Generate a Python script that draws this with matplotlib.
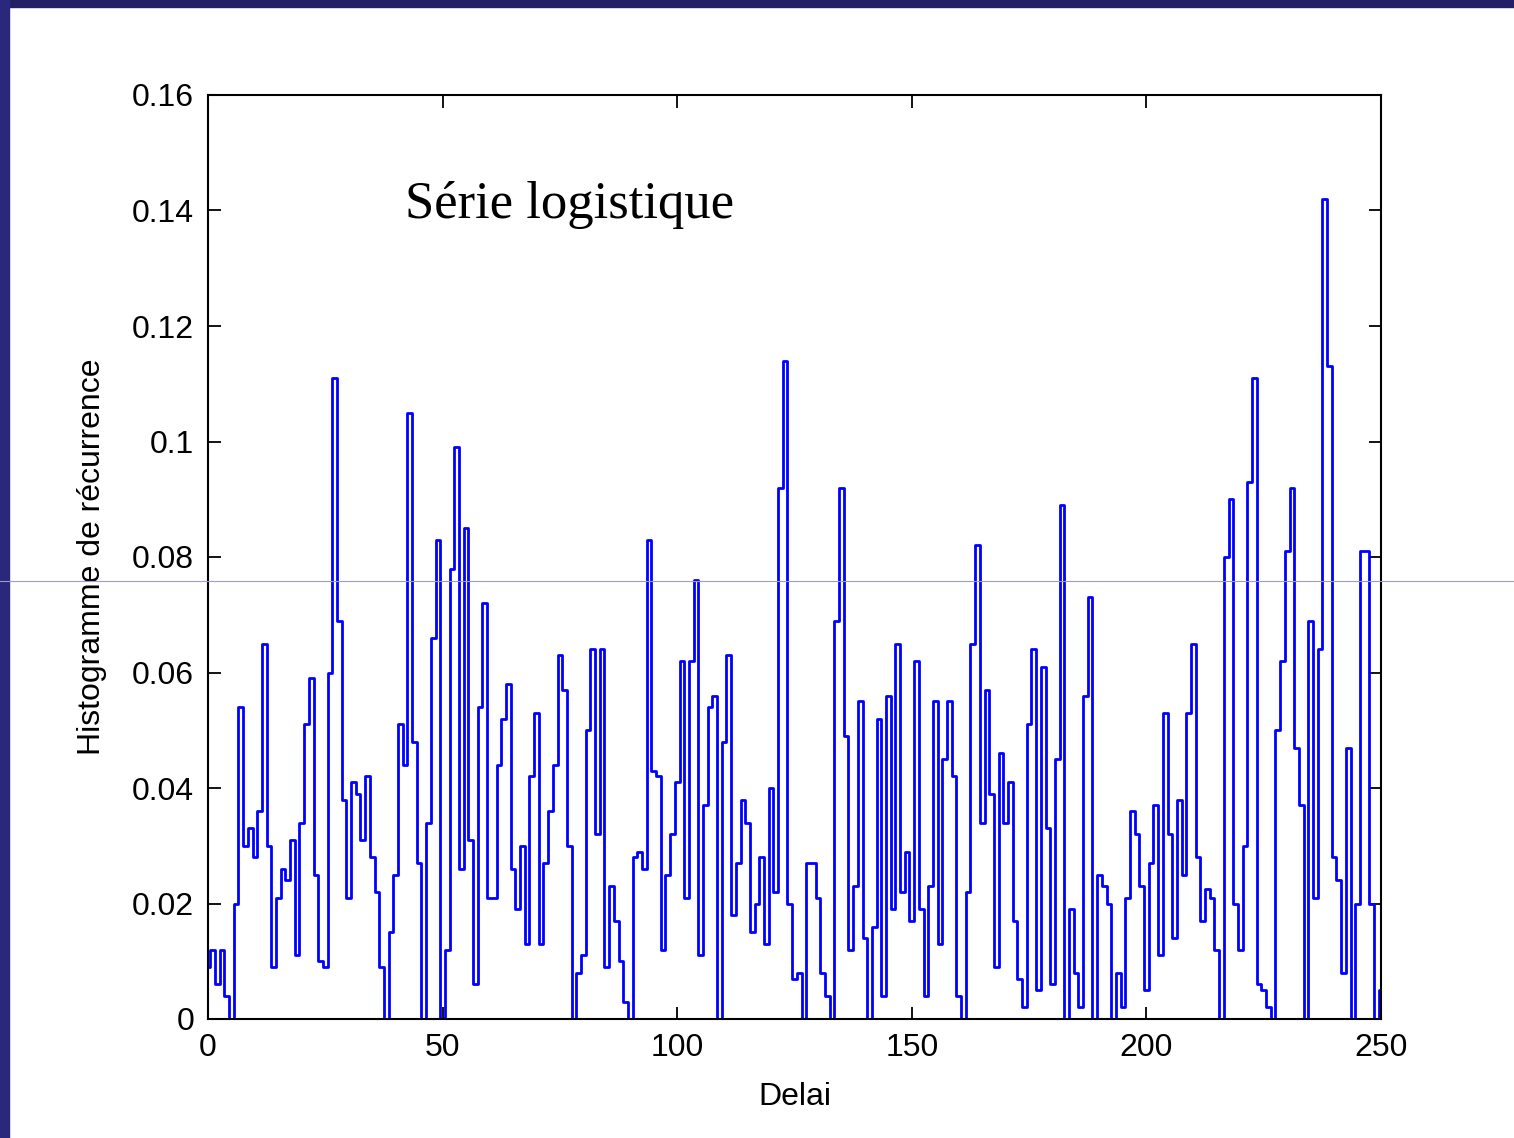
import numpy as np
import matplotlib.pyplot as plt
from matplotlib.patches import Rectangle
from matplotlib.lines import Line2D

# Recurrence histogram of the logistic series, one value per delay
hist_000 = [0.009, 0.012, 0.006, 0.012, 0.004, 0.0, 0.020, 0.054, 0.030, 0.033,
            0.028, 0.036, 0.065, 0.030, 0.009, 0.021, 0.026, 0.024, 0.031, 0.011,
            0.034, 0.051, 0.059, 0.025, 0.010, 0.009, 0.060, 0.111, 0.069, 0.038,
            0.021, 0.041, 0.039, 0.031, 0.042, 0.028, 0.022, 0.009, 0.0, 0.015,
            0.025, 0.051, 0.044, 0.105, 0.048, 0.027, 0.0, 0.034, 0.066, 0.083]
hist_050 = [0.0, 0.012, 0.078, 0.099, 0.026, 0.085, 0.031, 0.006, 0.054, 0.072,
            0.021, 0.021, 0.044, 0.052, 0.058, 0.026, 0.019, 0.030, 0.013, 0.042,
            0.053, 0.013, 0.027, 0.036, 0.044, 0.063, 0.057, 0.030, 0.0, 0.008,
            0.011, 0.050, 0.064, 0.032, 0.064, 0.009, 0.023, 0.017, 0.010, 0.003,
            0.0, 0.028, 0.029, 0.026, 0.083, 0.043, 0.042, 0.012, 0.025, 0.032]
hist_100 = [0.041, 0.062, 0.021, 0.062, 0.076, 0.011, 0.037, 0.054, 0.056, 0.0,
            0.048, 0.063, 0.018, 0.027, 0.038, 0.034, 0.015, 0.020, 0.028, 0.013,
            0.040, 0.022, 0.092, 0.114, 0.020, 0.007, 0.008, 0.0, 0.027, 0.027,
            0.021, 0.008, 0.004, 0.0, 0.069, 0.092, 0.049, 0.012, 0.023, 0.055,
            0.014, 0.0, 0.016, 0.052, 0.004, 0.056, 0.019, 0.065, 0.022, 0.029]
hist_150 = [0.017, 0.062, 0.019, 0.004, 0.023, 0.055, 0.013, 0.045, 0.055, 0.042,
            0.004, 0.0, 0.022, 0.065, 0.082, 0.034, 0.057, 0.039, 0.009, 0.046,
            0.034, 0.041, 0.017, 0.007, 0.002, 0.051, 0.064, 0.005, 0.061, 0.033,
            0.006, 0.045, 0.089, 0.0, 0.019, 0.008, 0.002, 0.056, 0.073, 0.0,
            0.025, 0.023, 0.020, 0.0, 0.008, 0.002, 0.021, 0.036, 0.032, 0.023]
hist_200 = [0.005, 0.027, 0.037, 0.011, 0.053, 0.032, 0.014, 0.038, 0.025, 0.053,
            0.065, 0.028, 0.017, 0.0225, 0.021, 0.012, 0.0, 0.080, 0.090, 0.020,
            0.012, 0.030, 0.093, 0.111, 0.006, 0.005, 0.002, 0.0, 0.050, 0.062,
            0.081, 0.092, 0.047, 0.037, 0.0, 0.069, 0.021, 0.064, 0.142, 0.113,
            0.028, 0.024, 0.008, 0.047, 0.0, 0.020, 0.081, 0.081, 0.020, 0.0, 0.005]

hist = np.concatenate([hist_000, hist_050, hist_100, hist_150, hist_200])
delay = np.arange(len(hist))

xticks = [0, 50, 100, 150, 200, 250]
yticks = [0, 0.02, 0.04, 0.06, 0.08, 0.1, 0.12, 0.14, 0.16]
ytick_labels = ['0', '0.02', '0.04', '0.06', '0.08', '0.1', '0.12', '0.14', '0.16']

plt.rcParams['font.family'] = ['Liberation Sans', 'DejaVu Sans']

W, H = 1514, 1138
fig = plt.figure(figsize=(W / 100, H / 100), dpi=100)

# slide frame (dark blue band top and left, thin guide line)
fig.patches.append(Rectangle((0, 1 - 7 / H), 1, 7 / H, transform=fig.transFigure,
                             color='#221f66', zorder=0))
fig.patches.append(Rectangle((0, 0), 9 / W, 1, transform=fig.transFigure,
                             color='#29287a', zorder=0))

ax = fig.add_axes([208 / W, 1 - 1019 / H, (1381 - 208) / W, (1019 - 95) / H])
ax.plot(delay, hist, color='#0000ff', lw=2.0, drawstyle='steps-mid')

ax.set_xlim(0, 250)
ax.set_ylim(0, 0.16)
ax.set_xticks(xticks)
ax.set_xticklabels([str(t) for t in xticks])
ax.set_yticks(yticks)
ax.set_yticklabels(ytick_labels)
ax.tick_params(direction='in', length=9, width=1.3, top=True, right=True,
               labelsize=23, pad=10)
for sp in ax.spines.values():
    sp.set_linewidth(1.5)

ax.set_xlabel('Delai', fontsize=23, labelpad=14)
ax.set_ylabel('Histogramme de récurrence', fontsize=23, labelpad=18)

ax.text(0.168, 0.881, 'Série logistique', transform=ax.transAxes,
        fontsize=38, family=['Liberation Serif', 'DejaVu Serif'],
        ha='left', va='center')

fig.add_artist(Line2D([0, 1], [1 - 581 / H, 1 - 581 / H], transform=fig.transFigure,
                      color='#9c9cd4', lw=0.8, zorder=10))

fig.savefig('out.png', dpi=100)
